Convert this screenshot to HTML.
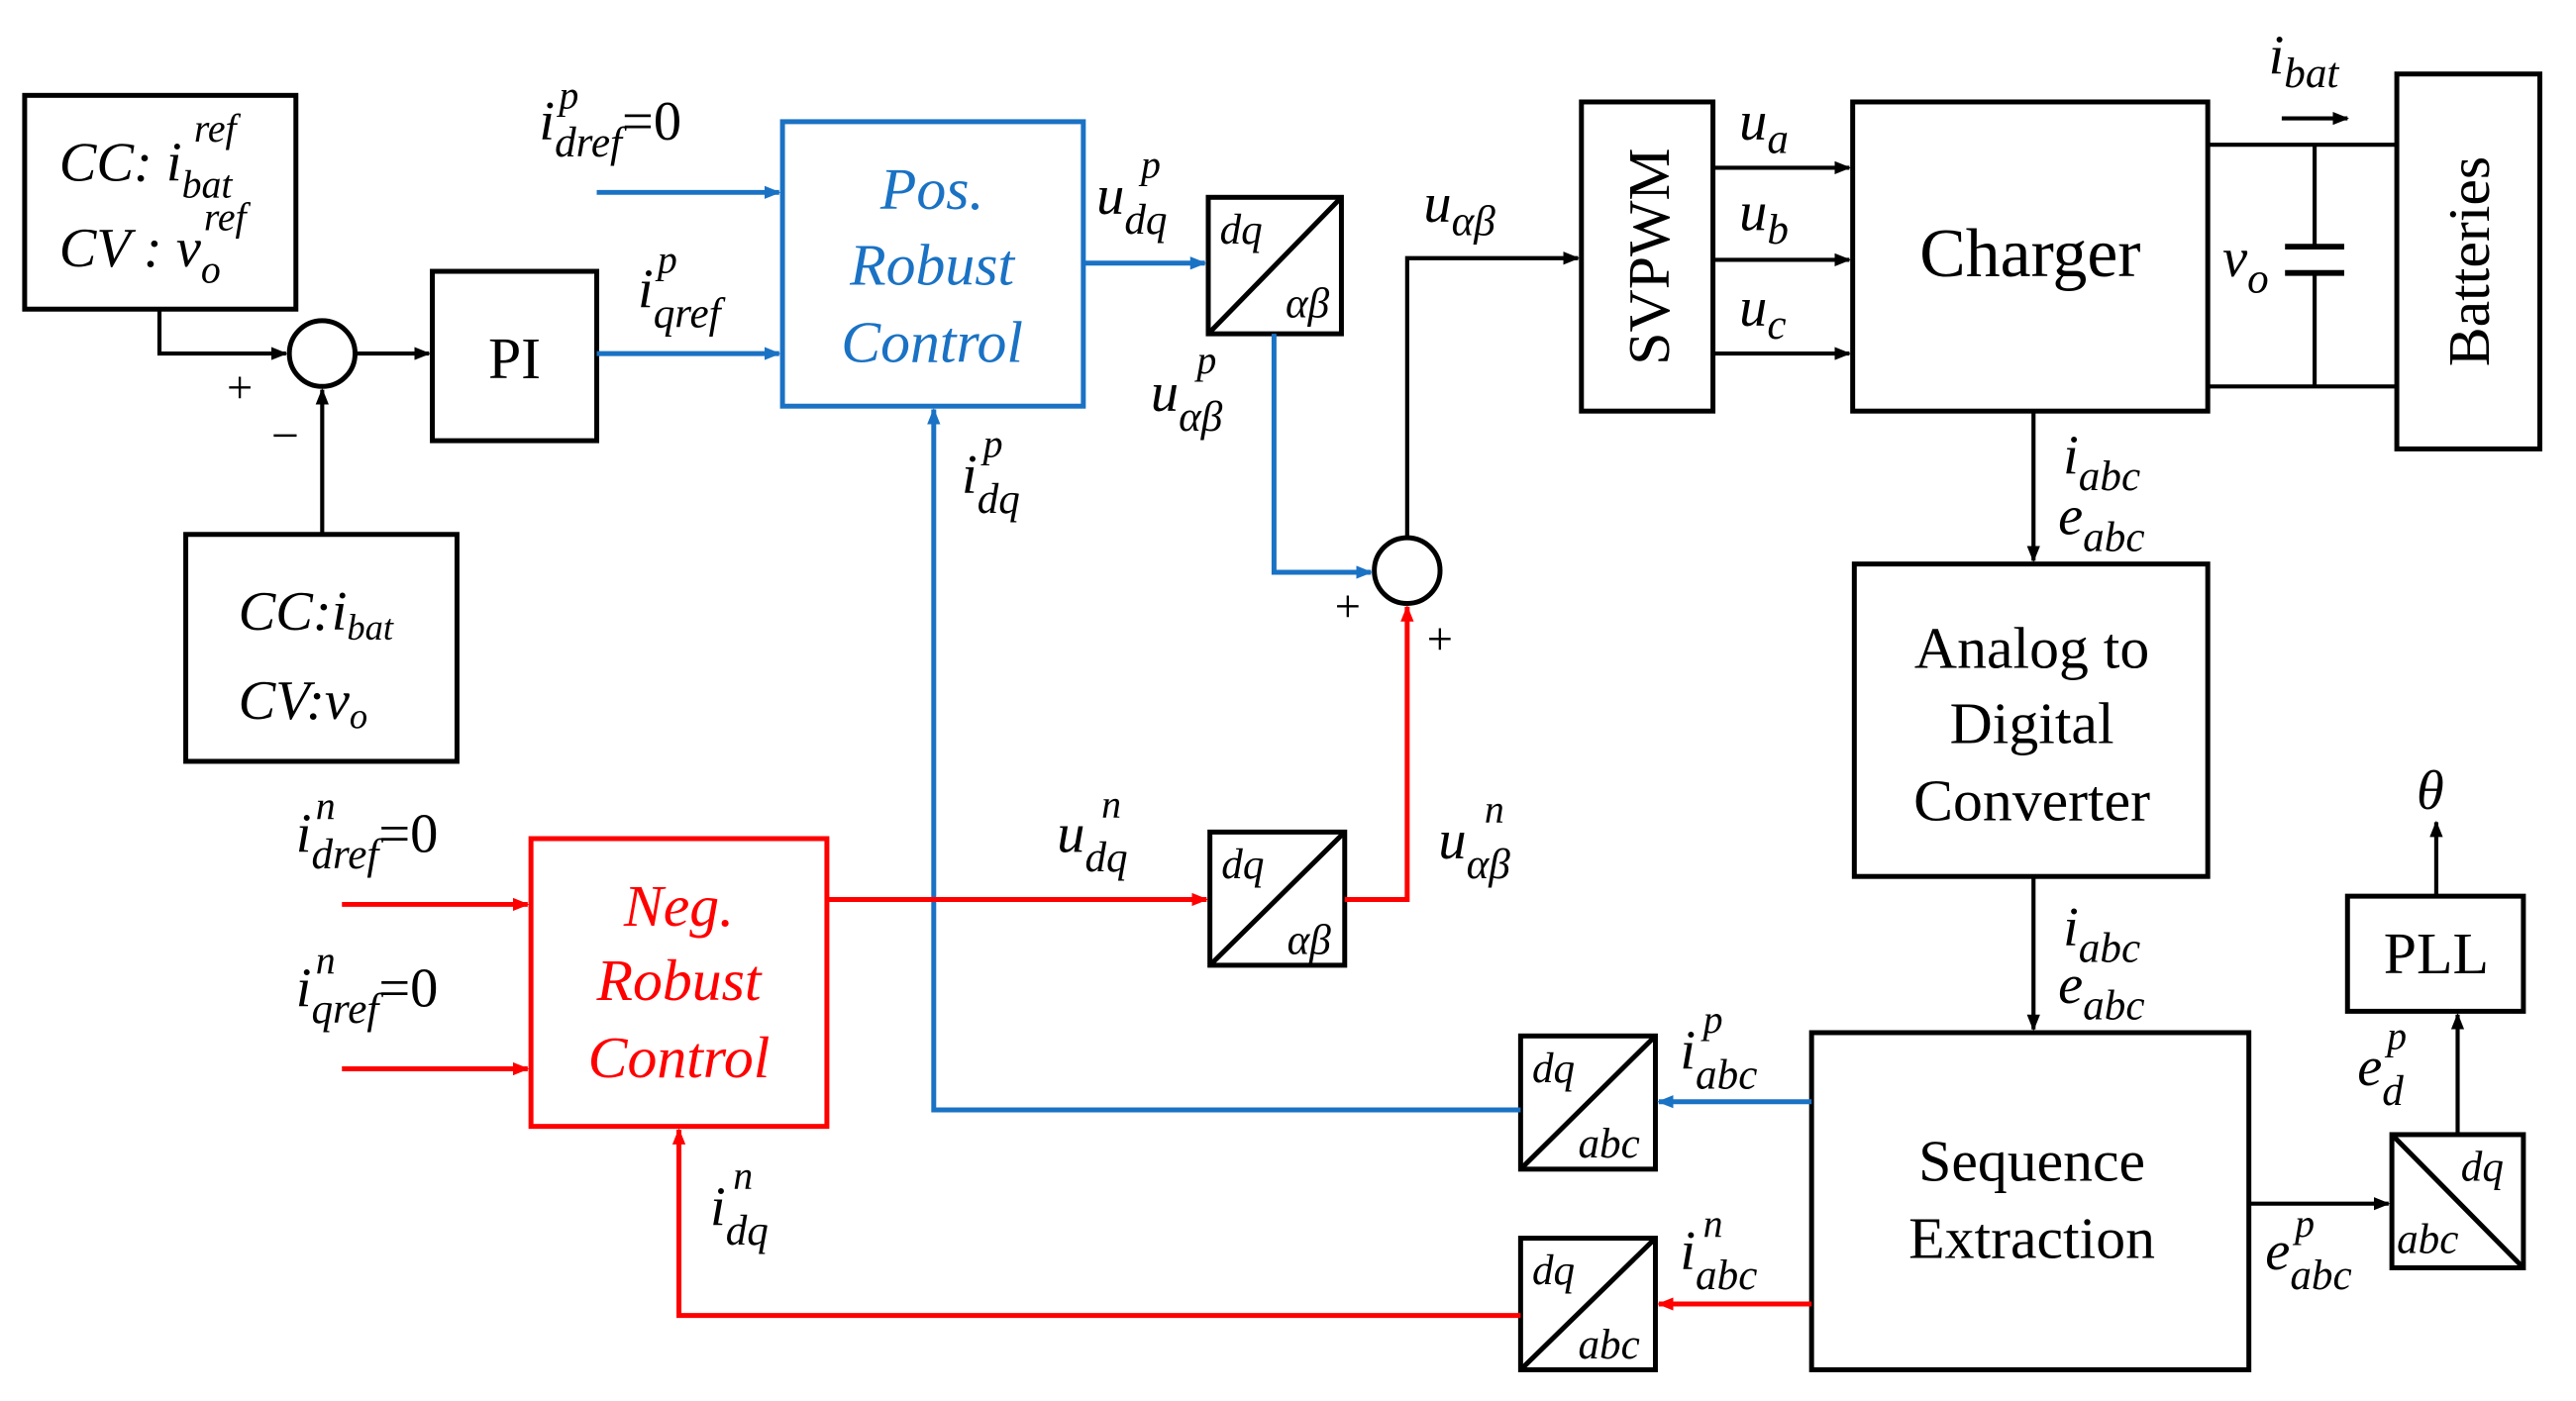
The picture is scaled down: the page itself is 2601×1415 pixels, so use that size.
<!DOCTYPE html>
<html><head><meta charset="utf-8"><style>html,body{margin:0;padding:0;background:#fff}svg{display:block}svg text{font-family:"Liberation Serif","DejaVu Serif",serif}</style></head>
<body>
<svg width="2601" height="1415" viewBox="0 0 1567 852" preserveAspectRatio="none" xmlns="http://www.w3.org/2000/svg">
<defs>
<marker id="ak" markerWidth="10" markerHeight="8" refX="9" refY="4" orient="auto" markerUnits="userSpaceOnUse"><path d="M0,0 L10,4 L0,8 z" fill="#000"/></marker>
<marker id="ab" markerWidth="10" markerHeight="8" refX="9" refY="4" orient="auto" markerUnits="userSpaceOnUse"><path d="M0,0 L10,4 L0,8 z" fill="#1a72c4"/></marker>
<marker id="ar" markerWidth="10" markerHeight="8" refX="9" refY="4" orient="auto" markerUnits="userSpaceOnUse"><path d="M0,0 L10,4 L0,8 z" fill="#f00"/></marker>
</defs>
<g fill="none" stroke="#000" stroke-width="3">
<rect x="15" y="58" width="165" height="130"/>
<rect x="113" y="325" width="165" height="138"/>
<rect x="263" y="165" width="100" height="103"/>
<circle cx="196" cy="215" r="20"/>
<circle cx="856" cy="347" r="20"/>
<rect x="735" y="120" width="81" height="83"/><line x1="735" y1="203" x2="816" y2="120"/>
<rect x="736" y="506" width="82" height="81"/><line x1="736" y1="587" x2="818" y2="506"/>
<rect x="925" y="630" width="82" height="81"/><line x1="925" y1="711" x2="1007" y2="630"/>
<rect x="925" y="753" width="82" height="80"/><line x1="925" y1="833" x2="1007" y2="753"/>
<rect x="1455" y="690" width="80" height="81"/><line x1="1455" y1="690" x2="1535" y2="771"/>
<rect x="962" y="62" width="80" height="188"/>
<rect x="1127" y="62" width="216" height="188"/>
<rect x="1458" y="45" width="87" height="228"/>
<rect x="1128" y="343" width="215" height="190"/>
<rect x="1102" y="628" width="266" height="205"/>
<rect x="1428" y="545" width="107" height="70"/>
</g>
<g fill="none" stroke="#000" stroke-width="2.5">
<polyline points="97,188 97,215 174,215" marker-end="url(#ak)"/>
<line x1="196" y1="325" x2="196" y2="237" marker-end="url(#ak)"/>
<line x1="216" y1="215" x2="261" y2="215" marker-end="url(#ak)"/>
<polyline points="856,327 856,157 960,157" marker-end="url(#ak)"/>
<line x1="1042" y1="102" x2="1125" y2="102" marker-end="url(#ak)"/>
<line x1="1042" y1="158" x2="1125" y2="158" marker-end="url(#ak)"/>
<line x1="1042" y1="215" x2="1125" y2="215" marker-end="url(#ak)"/>
<polyline points="1343,88 1458,88"/><polyline points="1343,235 1458,235"/>
<line x1="1408" y1="88" x2="1408" y2="150"/><line x1="1408" y1="166" x2="1408" y2="235"/>
<line x1="1390" y1="150" x2="1426" y2="150" stroke-width="3.5"/><line x1="1390" y1="166" x2="1426" y2="166" stroke-width="3.5"/>
<line x1="1388" y1="72" x2="1428" y2="72" marker-end="url(#ak)"/>
<line x1="1237" y1="250" x2="1237" y2="341" marker-end="url(#ak)"/>
<line x1="1237" y1="533" x2="1237" y2="626" marker-end="url(#ak)"/>
<line x1="1368" y1="732" x2="1453" y2="732" marker-end="url(#ak)"/>
<line x1="1495" y1="690" x2="1495" y2="617" marker-end="url(#ak)"/>
<line x1="1482" y1="545" x2="1482" y2="500" marker-end="url(#ak)"/>
</g>
<g fill="none" stroke="#1a72c4" stroke-width="3">
<rect x="476" y="74" width="183" height="173"/>
<line x1="363" y1="117" x2="474" y2="117" marker-end="url(#ab)"/>
<line x1="363" y1="215" x2="474" y2="215" marker-end="url(#ab)"/>
<line x1="659" y1="160" x2="733" y2="160" marker-end="url(#ab)"/>
<polyline points="775,203 775,348 834,348" marker-end="url(#ab)"/>
<line x1="1102" y1="670" x2="1009" y2="670" marker-end="url(#ab)"/>
<polyline points="925,675 568,675 568,249" marker-end="url(#ab)"/>
</g>
<g fill="none" stroke="#f00" stroke-width="3">
<rect x="323" y="510" width="180" height="175"/>
<line x1="208" y1="550" x2="321" y2="550" marker-end="url(#ar)"/>
<line x1="208" y1="650" x2="321" y2="650" marker-end="url(#ar)"/>
<line x1="503" y1="547" x2="734" y2="547" marker-end="url(#ar)"/>
<polyline points="818,547 856,547 856,369" marker-end="url(#ar)"/>
<line x1="1102" y1="793" x2="1009" y2="793" marker-end="url(#ar)"/>
<polyline points="925,800 413,800 413,687" marker-end="url(#ar)"/>
</g>
<g font-size="36" fill="#000" text-anchor="middle">
<text x="313" y="230">PI</text>
<text x="1235" y="168" font-size="42">Charger</text>
<text x="1236" y="406">Analog to</text>
<text x="1236" y="452">Digital</text>
<text x="1236" y="499">Converter</text>
<text x="1236" y="718">Sequence</text>
<text x="1236" y="765">Extraction</text>
<text x="1482" y="592">PLL</text>
<text transform="translate(1015,156) rotate(-90)">SVPWM</text>
<text transform="translate(1514,159) rotate(-90)">Batteries</text>
</g>
<g font-size="36" font-style="italic" text-anchor="middle">
<text x="567" y="127" fill="#1a72c4">Pos.</text><text x="567" y="173" fill="#1a72c4">Robust</text><text x="567" y="220" fill="#1a72c4">Control</text>
<text x="413" y="563" fill="#f00">Neg.</text><text x="413" y="608" fill="#f00">Robust</text><text x="413" y="655" fill="#f00">Control</text>
</g>
<g font-size="34" font-style="italic" fill="#000">
<text x="36" y="110">CC: i<tspan font-size="24" dy="10">bat</tspan></text><text x="118" y="86" font-size="24" font-style="italic">ref</text>
<text x="36" y="162">CV : v<tspan font-size="24" dy="10">o</tspan></text><text x="124" y="140" font-size="24" font-style="italic">ref</text>
<text x="145" y="383">CC:i<tspan font-size="22" dy="6">bat</tspan></text>
<text x="145" y="437">CV:v<tspan font-size="22" dy="6">o</tspan></text>
<text x="138" y="245" font-style="normal" font-size="28">+</text>
<text x="165" y="275" font-style="normal" font-size="30">−</text>
<text x="812" y="378" font-style="normal" font-size="28">+</text>
<text x="868" y="398" font-style="normal" font-size="28">+</text>
<text x="328" y="85">i<tspan font-size="26" dy="10">dref</tspan><tspan font-style="normal" dy="-10">=0</tspan></text><text x="340" y="66" font-size="24">p</text>
<text x="388" y="187">i<tspan font-size="26" dy="12">qref</tspan></text><text x="400" y="166" font-size="24">p</text>
<text x="667" y="130">u<tspan font-size="26" dy="12">dq</tspan></text><text x="694" y="108" font-size="24">p</text>
<text x="742" y="148" font-size="26">dq</text><text x="782" y="193" font-size="26">αβ</text>
<text x="743" y="534" font-size="26">dq</text><text x="783" y="580" font-size="26">αβ</text>
<text x="932" y="658" font-size="26">dq</text><text x="960" y="704" font-size="26">abc</text>
<text x="932" y="781" font-size="26">dq</text><text x="960" y="826" font-size="26">abc</text>
<text x="1497" y="718" font-size="26">dq</text><text x="1458" y="762" font-size="26">abc</text>
<text x="700" y="250">u<tspan font-size="26" dy="12">αβ</tspan></text><text x="728" y="227" font-size="24">p</text>
<text x="866" y="135">u<tspan font-size="26" dy="8">αβ</tspan></text>
<text x="585" y="300">i<tspan font-size="26" dy="12">dq</tspan></text><text x="598" y="278" font-size="24">p</text>
<text x="1058" y="85">u<tspan font-size="26" dy="8">a</tspan></text>
<text x="1058" y="140">u<tspan font-size="26" dy="8">b</tspan></text>
<text x="1058" y="198">u<tspan font-size="26" dy="8">c</tspan></text>
<text x="1380" y="45">i<tspan font-size="26" dy="8">bat</tspan></text>
<text x="1352" y="168">v<tspan font-size="26" dy="10">o</tspan></text>
<text x="1255" y="288">i<tspan font-size="26" dy="10">abc</tspan></text>
<text x="1252" y="325">e<tspan font-size="26" dy="10">abc</tspan></text>
<text x="1255" y="575">i<tspan font-size="26" dy="10">abc</tspan></text>
<text x="1252" y="610">e<tspan font-size="26" dy="10">abc</tspan></text>
<text x="1470" y="492">θ</text>
<text x="1022" y="650">i<tspan font-size="26" dy="12">abc</tspan></text><text x="1036" y="628" font-size="24">p</text>
<text x="1022" y="772">i<tspan font-size="26" dy="12">abc</tspan></text><text x="1036" y="752" font-size="24">n</text>
<text x="1378" y="772">e<tspan font-size="26" dy="12">abc</tspan></text><text x="1396" y="752" font-size="24">p</text>
<text x="1434" y="660">e<tspan font-size="26" dy="12">d</tspan></text><text x="1452" y="638" font-size="24">p</text>
<text x="180" y="518">i<tspan font-size="26" dy="10">dref</tspan><tspan font-style="normal" dy="-10">=0</tspan></text><text x="192" y="498" font-size="24">n</text>
<text x="180" y="612">i<tspan font-size="26" dy="10">qref</tspan><tspan font-style="normal" dy="-10">=0</tspan></text><text x="192" y="592" font-size="24">n</text>
<text x="643" y="518">u<tspan font-size="26" dy="12">dq</tspan></text><text x="670" y="497" font-size="24">n</text>
<text x="875" y="522">u<tspan font-size="26" dy="12">αβ</tspan></text><text x="903" y="500" font-size="24">n</text>
<text x="432" y="745">i<tspan font-size="26" dy="12">dq</tspan></text><text x="446" y="723" font-size="24">n</text>
</g>
</svg>
</body></html>
